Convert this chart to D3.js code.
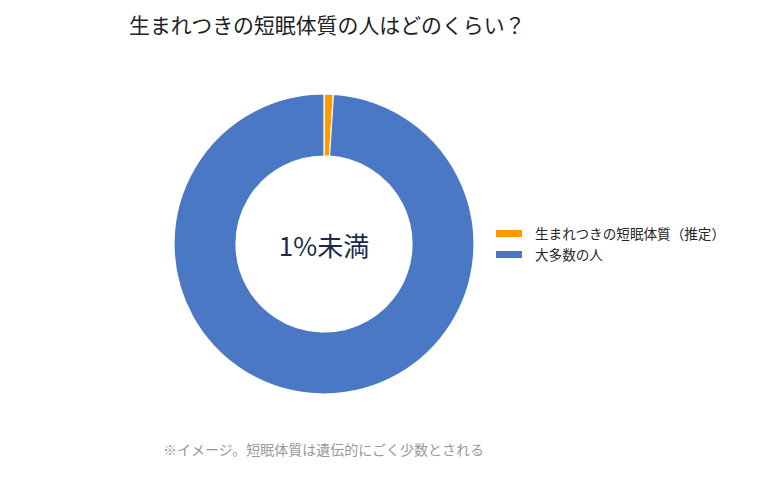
<!DOCTYPE html>
<html lang="ja">
<head>
<meta charset="utf-8">
<script src="https://cdn.jsdelivr.net/npm/d3@7"></script>
<style>
  body { margin: 0; background: #fff; }
  svg text { font-family: "Noto Sans CJK JP", "Noto Sans", sans-serif; }
</style>
</head>
<body>
<div id="chart"></div>
<script>
// Data
const categories = ["生まれつきの短眠体質（推定）", "大多数の人"];
const values = [1, 99];
const colors = ["#FF9900", "#4A78C4"];
const centerLabel = "1%未満";
const title = "生まれつきの短眠体質の人はどのくらい？";
const note = "※イメージ。短眠体質は遺伝的にごく少数とされる";

const W = 760, H = 480;
const cx = 324, cy = 244;
const outerR = 150, innerR = 88;

const svg = d3.select("#chart")
    .append("svg")
    .attr("width", W)
    .attr("height", H);

// Title
svg.append("text")
    .attr("x", 129)
    .attr("y", 33)
    .attr("font-size", 20.9)
    .attr("fill", "#222")
    .text(title);

// Donut
const pie = d3.pie().sort(null).value(d => d);
const arc = d3.arc().innerRadius(innerR).outerRadius(outerR);
const colorScale = d3.scaleOrdinal().domain(categories).range(colors);

const g = svg.append("g").attr("transform", `translate(${cx},${cy})`);

g.selectAll("path")
    .data(pie(values))
    .join("path")
    .attr("d", arc)
    .attr("fill", (d, i) => colorScale(categories[i]))
    .attr("stroke", "#fff")
    .attr("stroke-width", 1.2);

g.append("text")
    .attr("text-anchor", "middle")
    .attr("dominant-baseline", "central")
    .attr("font-size", 26)
    .attr("fill", "#1B2A47")
    .text(centerLabel);

// Legend
const legend = svg.append("g").attr("transform", "translate(496,233)");
const rows = legend.selectAll("g")
    .data(categories)
    .join("g")
    .attr("transform", (d, i) => `translate(0,${i * 21})`);

rows.append("rect")
    .attr("x", 0)
    .attr("y", -3)
    .attr("width", 26)
    .attr("height", 7)
    .attr("fill", d => colorScale(d));

rows.append("text")
    .attr("x", 39)
    .attr("y", 0)
    .attr("dominant-baseline", "central")
    .attr("font-size", 13.6)
    .attr("fill", "#262626")
    .text(d => d);

// Footnote
svg.append("text")
    .attr("x", 163)
    .attr("y", 455)
    .attr("font-size", 14)
    .attr("fill", "#999")
    .text(note);
</script>
</body>
</html>
